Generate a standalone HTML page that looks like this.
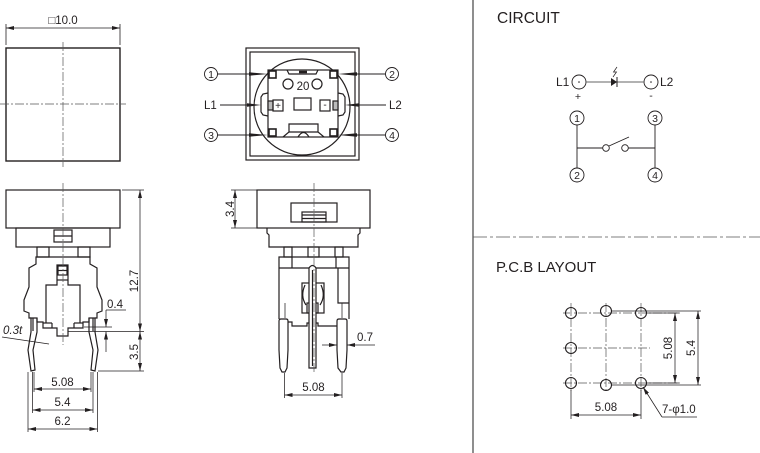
<!DOCTYPE html>
<html><head><meta charset="utf-8"><style>
html,body{margin:0;padding:0;background:#fff;}
svg{display:block;}
text{font-family:"Liberation Sans",Arial,sans-serif;fill:#231f20;stroke:none;}
</style></head><body>
<svg width="760" height="453" viewBox="0 0 760 453" xmlns="http://www.w3.org/2000/svg">
<defs>
<marker id="a" markerWidth="8" markerHeight="4" refX="8" refY="2" orient="auto-start-reverse" markerUnits="userSpaceOnUse"><path d="M0,0 L8,2 L0,4 z" fill="#231f20"/></marker>
</defs>

<!-- ===== TOP-LEFT: top view square ===== -->
<g fill="none" stroke="#231f20" stroke-width="0.8">
  <line x1="6" y1="24" x2="6" y2="45"/>
  <line x1="120" y1="24" x2="120" y2="45"/>
  <line x1="6" y1="28" x2="120" y2="28" marker-start="url(#a)" marker-end="url(#a)"/>
</g>
<text x="63" y="24" font-size="11.5" text-anchor="middle">□10.0</text>
<rect x="6" y="48" width="114" height="113" fill="none" stroke="#231f20" stroke-width="1.4"/>
<g stroke="#555" stroke-width="0.7" stroke-dasharray="9 2 2 2" fill="none">
  <line x1="63" y1="42" x2="63" y2="167"/>
  <line x1="0" y1="104" x2="126" y2="104"/>
</g>

<!-- ===== TOP-MIDDLE: bottom view ===== -->
<g fill="none" stroke="#231f20" stroke-width="1.2">
  <rect x="246" y="48" width="113" height="112"/>
  <rect x="250" y="52" width="105" height="104"/>
  <circle cx="302" cy="107" r="48"/>
  <path d="M268,93 L263,94 L261,97 L261,112 L263,115 L268,116"/>
  <path d="M338,93 L343,94 L345,97 L345,112 L343,115 L338,116"/>
  <rect x="268" y="70" width="70" height="67" fill="#fff"/>
  <rect x="269" y="71" width="7" height="7" stroke-width="1.6"/>
  <rect x="330" y="71" width="7" height="7" stroke-width="1.6"/>
  <rect x="269" y="129" width="7" height="7" stroke-width="1.6"/>
  <rect x="330" y="129" width="7" height="7" stroke-width="1.6"/>
  <path d="M287,70 L289,74 L316,74 L318,70"/>
  <line x1="299" y1="72" x2="307" y2="72" stroke-width="2.5"/>
  <circle cx="288" cy="84" r="5"/>
  <circle cx="317" cy="84" r="5"/>
  <rect x="268" y="101" width="5" height="9" fill="#bbb"/>
  <rect x="333" y="101" width="5" height="9" fill="#bbb"/>
  <rect x="273" y="100" width="10" height="11"/>
  <rect x="294" y="98" width="17" height="12"/>
  <rect x="320" y="100" width="10" height="11"/>
  <path d="M283,137 L289,132 L289,124 L318,124 L318,132 L324,137"/>
  <line x1="289" y1="132" x2="318" y2="132"/>
  <path d="M298,137 Q303.5,128 309,137"/>
</g>
<text x="303" y="90" font-size="11.5" text-anchor="middle">20</text>
<text x="278" y="109" font-size="10" text-anchor="middle">+</text>
<text x="325" y="108" font-size="10" text-anchor="middle">-</text>

<g fill="none" stroke="#231f20" stroke-width="0.9">
  <circle cx="211" cy="74" r="6.5"/>
  <circle cx="392" cy="74" r="6.5"/>
  <circle cx="211" cy="135" r="6.5"/>
  <circle cx="392" cy="135" r="6.5"/>
  <line x1="217.5" y1="74" x2="255" y2="74"/>
  <line x1="220" y1="105" x2="255" y2="105"/>
  <line x1="217.5" y1="135" x2="255" y2="135"/>
  <line x1="385.5" y1="74" x2="350" y2="74"/>
  <line x1="386" y1="105" x2="350" y2="105"/>
  <line x1="385.5" y1="135" x2="350" y2="135"/>
</g>
<g fill="#231f20">
  <polygon points="249,72.3 268,74 249,75.7"/>
  <polygon points="247,103.3 261,105 247,106.7"/>
  <polygon points="249,133.3 268,135 249,136.7"/>
  <polygon points="357,72.3 338,74 357,75.7"/>
  <polygon points="359,103.3 345,105 359,106.7"/>
  <polygon points="357,133.3 338,135 357,136.7"/>
</g>
<g font-size="10.5" text-anchor="middle">
  <text x="211" y="78">1</text>
  <text x="392" y="78">2</text>
  <text x="211" y="139">3</text>
  <text x="392" y="139">4</text>
</g>
<text x="204" y="109" font-size="11.5">L1</text>
<text x="389" y="109" font-size="11.5">L2</text>

<!-- ===== BOTTOM-LEFT: side view ===== -->
<g fill="none" stroke="#231f20" stroke-width="1.2">
  <rect x="6" y="190" width="114" height="38"/>
  <rect x="16" y="228" width="94" height="19"/>
  <rect x="54" y="230" width="18" height="12"/>
  <line x1="54" y1="236" x2="72" y2="236"/>
  <rect x="37" y="247" width="12" height="10"/>
  <rect x="78" y="247" width="12" height="10"/>
  <path d="M31,318 L29,318 L29,313 L24,311 L24,300 L29,287 L29,268 L36,264 L36,257 L90,257 L90,264 L97,268 L97,287 L102,300 L102,311 L97,313 L97,318 L95,318"/>
  <path d="M37,318 L37,322 L43,322 L43,328 L57,328 L57,336 L68,336 L68,328 L83,328 L83,322 L89,322 L89,318"/>
  <path d="M46,323 L46,285 L57,285 L57,265 L68,265 L68,285 L80,285 L80,323"/>
  <line x1="43" y1="323" x2="52" y2="323"/>
  <line x1="74" y1="323" x2="83" y2="323"/>
  <line x1="52" y1="323" x2="52" y2="328"/>
  <line x1="74" y1="323" x2="74" y2="328"/>
  <rect x="58" y="266" width="9" height="9"/>
  <line x1="58" y1="270.5" x2="67" y2="270.5"/>
  <line x1="57" y1="280" x2="68" y2="280"/>
  <path d="M31,318 L37,318 L37,332 L33,350 L35,370 L31,371 L28,350 L31,332 Z"/>
  <path d="M95,318 L89,318 L89,332 L93,350 L91,370 L95,371 L98,350 L95,332 Z"/>
  <line x1="33" y1="318" x2="33" y2="331"/>
  <line x1="93" y1="318" x2="93" y2="331"/>
</g>
<line x1="63" y1="183" x2="63" y2="345" stroke="#555" stroke-width="0.7" stroke-dasharray="9 2 2 2"/>

<g fill="none" stroke="#231f20" stroke-width="0.75">
  <line x1="122" y1="190" x2="144" y2="190"/>
  <line x1="68" y1="331.5" x2="144" y2="331.5"/>
  <line x1="84" y1="327" x2="112" y2="327"/>
  <line x1="98" y1="371" x2="144" y2="371"/>
  <line x1="140" y1="190" x2="140" y2="331.5" marker-start="url(#a)" marker-end="url(#a)"/>
  <line x1="140" y1="331.5" x2="140" y2="371" marker-start="url(#a)" marker-end="url(#a)"/>
  <line x1="106" y1="310" x2="126" y2="310"/>
  <line x1="106" y1="310" x2="106" y2="327" marker-end="url(#a)"/>
  <line x1="106" y1="352" x2="106" y2="331.5" marker-end="url(#a)"/>
  <line x1="2" y1="337" x2="49" y2="344"/>
  <line x1="34" y1="372" x2="34" y2="392"/>
  <line x1="91" y1="372" x2="91" y2="392"/>
  <line x1="32.5" y1="372" x2="32.5" y2="413"/>
  <line x1="93" y1="372" x2="93" y2="413"/>
  <line x1="28" y1="372" x2="28" y2="432"/>
  <line x1="97.5" y1="372" x2="97.5" y2="432"/>
  <line x1="34" y1="389" x2="91" y2="389" marker-start="url(#a)" marker-end="url(#a)"/>
  <line x1="32.5" y1="410" x2="93" y2="410" marker-start="url(#a)" marker-end="url(#a)"/>
  <line x1="28" y1="429" x2="97.5" y2="429" marker-start="url(#a)" marker-end="url(#a)"/>
</g>
<g font-size="11.5">
  <text x="134" y="281" text-anchor="middle" transform="rotate(-90 134 281)" dy="4">12.7</text>
  <text x="134" y="352" text-anchor="middle" transform="rotate(-90 134 352)" dy="4">3.5</text>
  <text x="107" y="308">0.4</text>
  <text x="3" y="334" font-style="italic">0.3t</text>
  <text x="62.5" y="386" text-anchor="middle">5.08</text>
  <text x="62.5" y="406" text-anchor="middle">5.4</text>
  <text x="62.5" y="425" text-anchor="middle">6.2</text>
</g>

<!-- ===== BOTTOM-MIDDLE: side view ===== -->
<g fill="none" stroke="#231f20" stroke-width="1.2">
  <rect x="257" y="190" width="113" height="38"/>
  <rect x="291" y="203" width="46" height="19"/>
  <rect x="302" y="212" width="24" height="10"/>
  <line x1="302" y1="215" x2="326" y2="215"/>
  <line x1="302" y1="218.5" x2="326" y2="218.5"/>
  <path d="M267,228 L267,233 L269,235 L269,247 L358,247 L358,235 L360,233 L360,228"/>
  <rect x="284" y="247" width="8" height="10"/>
  <rect x="308" y="247" width="11" height="10"/>
  <rect x="335" y="247" width="8" height="10"/>
  <path d="M279,319 L279,257 L349,257 L349,319"/>
  <line x1="279" y1="268" x2="349" y2="268"/>
  <line x1="292" y1="257" x2="292" y2="268"/>
  <line x1="336" y1="257" x2="336" y2="268"/>
  <path d="M338,268 L338,303 L349,303"/>
  <path d="M288,322 L292,322 L292,326 L307,326 L307,323 L318,323 L318,326 L337,326"/>
  <rect x="302" y="283" width="22" height="30"/>
  <path d="M305,285 Q300,296 306,305"/>
  <path d="M321,285 Q326,296 320,305"/>
  <rect x="307" y="303" width="11" height="10"/>
  <path d="M309,368 L309,268 Q312.5,263 316,268 L316,368 Z" fill="#fff"/>
  <line x1="312.5" y1="270" x2="312.5" y2="366"/>
  <path d="M279,321 Q279,319 281,319 L286,319 Q288,319 288,321 L288,350 L287,368 L285,372 L282,372 L280,368 L279,350 Z" fill="#fff"/>
  <path d="M337,321 Q337,319 339,319 L345,319 Q347,319 347,321 L347,350 L346,368 L344,372 L341,372 L338,368 L337,350 Z" fill="#fff"/>
</g>
<line x1="314" y1="183" x2="314" y2="372" stroke="#555" stroke-width="0.7" stroke-dasharray="9 2 2 2"/>
<g fill="none" stroke="#231f20" stroke-width="0.75">
  <line x1="231" y1="190" x2="257" y2="190"/>
  <line x1="231" y1="228" x2="257" y2="228"/>
  <line x1="235" y1="190" x2="235" y2="228" marker-start="url(#a)" marker-end="url(#a)"/>
  <line x1="285" y1="303" x2="285" y2="318"/>
  <line x1="342" y1="303" x2="342" y2="318"/>
  <line x1="284.5" y1="373" x2="284.5" y2="398"/>
  <line x1="342" y1="373" x2="342" y2="398"/>
  <line x1="284.5" y1="395" x2="342" y2="395" marker-start="url(#a)" marker-end="url(#a)"/>
  <line x1="322" y1="345" x2="337" y2="345" marker-end="url(#a)"/>
  <line x1="375" y1="345" x2="347" y2="345" marker-end="url(#a)"/>
</g>
<g font-size="11.5">
  <text x="230" y="209" text-anchor="middle" transform="rotate(-90 230 209)" dy="4">3.4</text>
  <text x="357" y="341">0.7</text>
  <text x="313.5" y="391" text-anchor="middle">5.08</text>
</g>

<!-- ===== DIVIDERS ===== -->
<line x1="473" y1="0" x2="473" y2="453" stroke="#333" stroke-width="1.1"/>
<line x1="473" y1="237" x2="760" y2="237" stroke="#555" stroke-width="0.8" stroke-dasharray="14 3 3 3"/>

<!-- ===== CIRCUIT ===== -->
<text x="497" y="23" font-size="15.5">CIRCUIT</text>
<g fill="none" stroke="#231f20" stroke-width="0.9">
  <circle cx="579" cy="82" r="7"/>
  <circle cx="651" cy="82" r="7"/>
  <line x1="586" y1="82" x2="644" y2="82" stroke="#666"/>
  <line x1="617" y1="77" x2="617" y2="87" stroke-width="1"/>
  <polyline points="617,67 613.5,72 616.5,72 613,77" stroke-width="0.7"/>
  <circle cx="577" cy="118" r="7"/>
  <circle cx="655" cy="118" r="7"/>
  <circle cx="577" cy="175" r="7"/>
  <circle cx="655" cy="175" r="7"/>
  <line x1="577" y1="125" x2="577" y2="168"/>
  <line x1="655" y1="125" x2="655" y2="168"/>
  <line x1="577" y1="148" x2="602.7" y2="148"/>
  <line x1="628.3" y1="148" x2="655" y2="148"/>
  <circle cx="606" cy="148" r="3.3"/>
  <circle cx="625" cy="148" r="3.3"/>
  <line x1="609" y1="146" x2="629" y2="137"/>
</g>
<polygon points="611,78 611,86 617,82" fill="#231f20"/>
<circle cx="579" cy="82" r="0.8" fill="#231f20"/>
<circle cx="651" cy="82" r="0.8" fill="#231f20"/>
<g font-size="12">
  <text x="556" y="86">L1</text>
  <text x="660" y="86">L2</text>
</g>
<g font-size="10.5" text-anchor="middle">
  <text x="578" y="100">+</text>
  <text x="651" y="99">-</text>
  <text x="577" y="122">1</text>
  <text x="655" y="122">3</text>
  <text x="577" y="179">2</text>
  <text x="655" y="179">4</text>
</g>

<!-- ===== PCB LAYOUT ===== -->
<text x="496" y="272" font-size="15">P.C.B LAYOUT</text>
<g stroke="#555" stroke-width="0.7" stroke-dasharray="9 2 2 2" fill="none">
  <line x1="563" y1="313" x2="680" y2="313"/>
  <line x1="563" y1="348" x2="650" y2="348"/>
  <line x1="563" y1="383" x2="680" y2="383"/>
  <line x1="571" y1="303" x2="571" y2="392"/>
  <line x1="606" y1="303" x2="606" y2="393"/>
  <line x1="641" y1="303" x2="641" y2="392"/>
</g>
<g fill="none" stroke="#231f20" stroke-width="1.1">
  <circle cx="571" cy="313" r="5.5"/>
  <circle cx="606" cy="311" r="5.5"/>
  <circle cx="641" cy="313" r="5.5"/>
  <circle cx="571" cy="348" r="5.5"/>
  <circle cx="571" cy="383" r="5.5"/>
  <circle cx="606" cy="385" r="5.5"/>
  <circle cx="641" cy="383" r="5.5"/>
</g>
<g fill="none" stroke="#231f20" stroke-width="0.75">
  <line x1="611" y1="311" x2="701" y2="311"/>
  <line x1="611" y1="385" x2="701" y2="385"/>
  <line x1="646" y1="313" x2="679" y2="313"/>
  <line x1="646" y1="383" x2="679" y2="383"/>
  <line x1="675" y1="313" x2="675" y2="383" marker-start="url(#a)" marker-end="url(#a)"/>
  <line x1="698" y1="311" x2="698" y2="385" marker-start="url(#a)" marker-end="url(#a)"/>
  <line x1="571" y1="390" x2="571" y2="419"/>
  <line x1="641" y1="390" x2="641" y2="419"/>
  <line x1="571" y1="415" x2="641" y2="415" marker-start="url(#a)" marker-end="url(#a)"/>
  <line x1="662" y1="417" x2="643" y2="387" marker-end="url(#a)"/>
  <line x1="662" y1="417" x2="697" y2="417"/>
</g>
<g font-size="11.5">
  <text x="668" y="348" text-anchor="middle" transform="rotate(-90 668 348)" dy="4">5.08</text>
  <text x="691" y="348" text-anchor="middle" transform="rotate(-90 691 348)" dy="4">5.4</text>
  <text x="606" y="411" text-anchor="middle">5.08</text>
  <text x="662" y="413">7-φ1.0</text>
</g>
</svg>
</body></html>
